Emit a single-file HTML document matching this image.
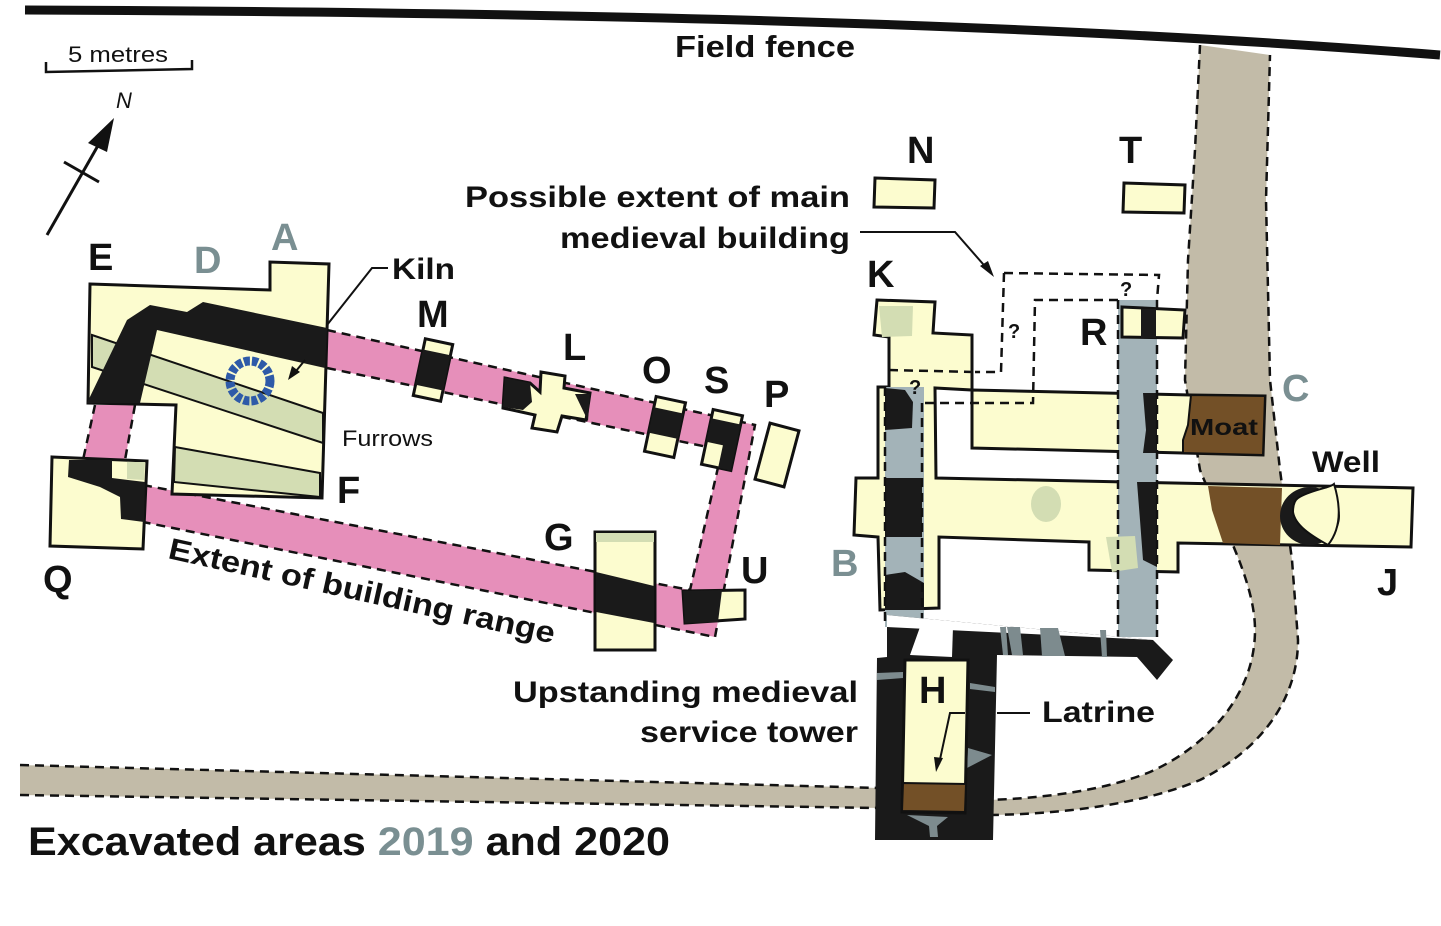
<!DOCTYPE html>
<html><head><meta charset="utf-8"><style>
html,body{margin:0;padding:0;background:#fff;}
svg{display:block;}
text{font-family:"Liberation Sans",Arial,sans-serif;font-weight:bold;fill:#111;}
</style></head><body>
<svg width="1441" height="926" viewBox="0 0 1441 926" xmlns="http://www.w3.org/2000/svg">
<!-- road -->
<path d="M1200,45 L1195,150 L1188,260 L1185,380 L1200,470 C1220,520 1255,580 1255,630 C1255,700 1200,750 1150,772 C1100,792 1040,798 990,800 L990,815 C1060,814 1140,805 1200,780 C1260,750 1298,700 1298,640 L1292,560 L1280,470 L1270,380 L1266,200 L1270,55 Z" fill="#c2bba8"/>
<path d="M1200,45 L1195,150 L1188,260 L1185,380 L1200,470 C1220,520 1255,580 1255,630 C1255,700 1200,750 1150,772 C1100,792 1040,798 990,800" fill="none" stroke="#111" stroke-width="2.5" stroke-dasharray="9,6"/>
<path d="M990,815 C1060,814 1140,805 1200,780 C1260,750 1298,700 1298,640 L1292,560 L1280,470 L1270,380 L1266,200 L1270,55" fill="none" stroke="#111" stroke-width="2.5" stroke-dasharray="9,6"/>
<path d="M20,765 L880,788 L880,808 L20,795 Z" fill="#c2bba8"/>
<path d="M20,765 L880,788 M20,795 L880,808" stroke="#111" stroke-width="2.5" stroke-dasharray="9,6" fill="none"/>
<!-- fence -->
<path d="M25,10 C500,12 1000,20 1440,55" stroke="#111" stroke-width="9" fill="none"/>
<!-- scale -->
<path d="M46,62 L46,72 L192,69 L192,60" stroke="#111" stroke-width="2.5" fill="none"/>
<text x="68" y="62" font-size="22" textLength="100" lengthAdjust="spacingAndGlyphs" style="font-weight:normal">5 metres</text>
<!-- north -->
<path d="M47,235 L108,128" stroke="#111" stroke-width="3"/>
<path d="M64,162 L99,182" stroke="#111" stroke-width="3"/>
<path d="M114,118 L88,143 L107,152 Z" fill="#111"/>
<text x="116" y="108" font-size="22" style="font-weight:normal;font-style:italic">N</text>
<!-- pink range -->
<g fill="#e68fba">
<path d="M327,330 L755,425 L715,637 L143,522 L143,485 L690,590 L722,450 L327,368 Z"/>
<path d="M95,405 L135,405 L125,460 L83,460 Z"/>
</g>
<g stroke="#111" stroke-width="2.5" stroke-dasharray="9,6" fill="none">
<path d="M327,330 L755,425 L715,637 L143,522"/>
<path d="M143,485 L690,590 L722,450 L327,368"/>
<path d="M95,405 L83,460 M135,405 L125,460"/>
</g>
<!-- E building -->
<path d="M90,284 L270,290 L270,262 L329,264 L322,498 L172,494 L176,405 L88,403 Z" fill="#fcfccf" stroke="#111" stroke-width="3"/>
<path d="M92,335 L323,413 L323,443 L92,367 Z" fill="#d3ddb3" stroke="#111" stroke-width="2"/>
<path d="M175,447 L320,473 L320,497 L174,482 Z" fill="#d3ddb3" stroke="#111" stroke-width="2"/>
<path d="M87,403 L127,320 L150,305 L187,312 L203,302 L327,328 L325,368 L157,330 L140,403 Z" fill="#1a1a1a"/>
<circle cx="250" cy="381" r="20" fill="none" stroke="#2e5aa8" stroke-width="9" stroke-dasharray="6,2"/>
<path d="M305,360 L292,376" stroke="#111" stroke-width="2"/>
<path d="M288,380 L292,366 L300,372 Z" fill="#111"/>
<path d="M388,268 L372,268 L327,325" stroke="#111" stroke-width="2" fill="none"/>
<!-- Q -->
<path d="M52,457 L147,461 L143,549 L50,546 Z" fill="#fcfccf" stroke="#111" stroke-width="3"/>
<path d="M127,462 L145,462 L144,480 L127,479 Z" fill="#d3ddb3"/>
<path d="M69,460 L112,460 L112,478 L145,482 L144,522 L121,519 L120,497 L100,487 L68,477 Z" fill="#1a1a1a"/>
<!-- M -->
<g transform="translate(433,370) rotate(12)"><rect x="-14" y="-29" width="28" height="58" fill="#fcfccf" stroke="#111" stroke-width="3"/><rect x="-14" y="-18" width="28" height="36" fill="#1a1a1a"/></g>
<!-- L -->
<path d="M505,378 L530,383 L540,392 L541,372 L565,376 L564,388 L590,393 L586,420 L562,416 L557,432 L532,428 L535,415 L503,408 Z" fill="#fcfccf" stroke="#111" stroke-width="3"/>
<path d="M505,378 L530,383 L532,402 L523,410 L503,407 Z" fill="#1a1a1a"/>
<path d="M575,394 L590,394 L588,421 Z" fill="#1a1a1a"/>
<!-- O -->
<g transform="translate(665,427) rotate(12)"><rect x="-15" y="-28" width="30" height="56" fill="#fcfccf" stroke="#111" stroke-width="3"/><rect x="-15" y="-17" width="30" height="26" fill="#1a1a1a"/></g>
<!-- S -->
<g transform="translate(722,440) rotate(12)"><rect x="-15" y="-28" width="30" height="56" fill="#fcfccf" stroke="#111" stroke-width="3"/><rect x="-15" y="-19" width="30" height="24" fill="#1a1a1a"/><rect x="2" y="4" width="13" height="24" fill="#1a1a1a"/></g>
<!-- P -->
<g transform="translate(777,455) rotate(15)"><rect x="-15" y="-29" width="30" height="58" fill="#fcfccf" stroke="#111" stroke-width="3"/></g>
<!-- G -->
<rect x="595" y="532" width="60" height="118" fill="#fcfccf" stroke="#111" stroke-width="3"/>
<rect x="596" y="533" width="58" height="9" fill="#d3ddb3"/>
<path d="M596,572 L654,586 L654,623 L596,612 Z" fill="#1a1a1a"/>
<!-- U -->
<path d="M683,591 L745,590 L745,619 L685,623 Z" fill="#fcfccf" stroke="#111" stroke-width="3"/>
<path d="M683,591 L722,590 L718,622 L685,623 Z" fill="#1a1a1a"/>
<!-- N, T -->
<path d="M875,178 L935,180 L934,208 L874,207 Z" fill="#fcfccf" stroke="#111" stroke-width="3"/>
<path d="M1124,183 L1185,185 L1184,213 L1123,212 Z" fill="#fcfccf" stroke="#111" stroke-width="3"/>
<!-- right complex -->
<path d="M877,300 L935,302 L933,333 L972,335 L972,390 L935,388 L936,478 L1413,488 L1411,547 L1178,543 L1178,572 L1089,570 L1089,542 L939,537 L939,608 L880,610 L878,537 L854,535 L856,478 L878,478 L878,387 L889,387 L889,337 L874,335 Z" fill="#fcfccf" stroke="#111" stroke-width="3"/>
<path d="M972,390 L1191,395 L1265,396 L1263,455 L1183,453 L972,448 Z" fill="#fcfccf" stroke="#111" stroke-width="3"/>
<path d="M1191,395 L1265,396 L1263,455 L1183,453 L1183,440 L1188,425 Z" fill="#735027" stroke="#111" stroke-width="2"/>
<path d="M1208,486 L1282,488 L1280,545 L1223,543 L1212,510 Z" fill="#735027"/>
<!-- well -->
<ellipse cx="1310" cy="516" rx="30" ry="29" fill="#1a1a1a"/>
<path d="M1298,498 C1310,490 1330,488 1334,484 C1342,510 1340,530 1328,545 C1310,535 1295,525 1293,512 C1293,505 1295,500 1298,498 Z" fill="#fcfccf" stroke="#111" stroke-width="2"/>
<!-- gray strips -->
<rect x="885" y="387" width="39" height="240" fill="#a3b3b8"/>
<rect x="1118" y="300" width="39" height="337" fill="#a3b3b8"/>
<g fill="#1a1a1a">
<path d="M885,388 L905,390 L913,402 L912,428 L885,430 Z"/>
<path d="M885,478 L922,478 L922,537 L885,537 Z"/>
<path d="M885,575 L905,572 L924,583 L924,610 L885,610 Z"/>
<path d="M1143,393 L1157,393 L1157,453 L1143,453 L1146,430 Z"/>
<path d="M1137,482 L1157,482 L1157,567 L1143,560 L1140,520 Z"/>
</g>
<!-- green blobs -->
<path d="M879,306 L913,306 L912,336 L882,337 Z" fill="#d3ddb3"/>
<ellipse cx="1046" cy="504" rx="15" ry="18" fill="#d3ddb3"/>
<path d="M1106,537 L1135,536 L1138,568 L1112,572 Z" fill="#d3ddb3"/>
<g stroke="#111" stroke-width="2.5" stroke-dasharray="9,6" fill="none">
<path d="M885,387 L885,627 M922,403 L922,627"/>
<path d="M1118,300 L1118,637 M1157,300 L1157,637"/>
<path d="M1004,273 L1159,275 L1157,300"/>
<path d="M1004,273 L1001,372 L975,372"/>
<path d="M889,370 L974,372"/>
<path d="M1118,300 L1035,300 L1033,403 L920,403"/>
</g>
<!-- R -->
<path d="M1122,307 L1185,310 L1183,338 L1122,337 Z" fill="#fcfccf" stroke="#111" stroke-width="3"/>
<rect x="1141" y="309" width="15" height="29" fill="#1a1a1a"/>
<text x="1008" y="338" font-size="20">?</text>
<text x="1120" y="296" font-size="20">?</text>
<text x="909" y="394" font-size="20">?</text>
<!-- possible extent arrow -->
<path d="M860,232 L955,232 L990,272" stroke="#111" stroke-width="2" fill="none"/>
<path d="M994,277 L980,266 L988,261 Z" fill="#111"/>
<!-- tower band -->
<path d="M887,615 L1153,640 L1173,660 L1157,680 L1137,657 L997,655 L993,840 L875,840 L877,658 L887,657 Z" fill="#1a1a1a"/>
<path d="M887,615 L887,627 L1153,640 Z" fill="#fff"/>
<path d="M920,627 L953,627 L952,657 L910,655 Z" fill="#fff"/>
<g fill="#7d8b8e">
<path d="M1000,627 L1006,627 L1008,655 L1003,655 Z"/>
<path d="M1007,627 L1020,627 L1023,655 L1012,655 Z"/>
<path d="M1040,628 L1058,628 L1065,656 L1042,656 Z"/>
<path d="M1100,630 L1106,630 L1107,657 L1102,657 Z"/>
<path d="M907,815 L948,817 L937,826 L938,837 L930,837 L929,826 Z"/>
<path d="M968,748 L992,755 L967,768 Z"/>
<path d="M877,673 L903,672 L903,678 L877,680 Z"/>
<path d="M970,683 L995,687 L995,692 L970,689 Z"/>
</g>
<path d="M905,660 L968,660 L965,813 L902,812 Z" fill="#fcfccf" stroke="#111" stroke-width="3"/>
<path d="M903,783 L966,784 L965,812 L902,811 Z" fill="#735027" stroke="#111" stroke-width="2"/>
<path d="M965,713 L950,713 L939,764" stroke="#111" stroke-width="2" fill="none"/>
<path d="M936,772 L934,757 L943,758 Z" fill="#111"/>
<path d="M997,713 L1030,713" stroke="#111" stroke-width="2"/>
<!-- labels -->
<text x="675" y="57" font-size="31" textLength="180" lengthAdjust="spacingAndGlyphs">Field fence</text>
<text x="88" y="270" font-size="38">E</text>
<text x="194" y="273" font-size="38" style="fill:#7a8f92">D</text>
<text x="271" y="250" font-size="38" style="fill:#7a8f92">A</text>
<text x="392" y="279" font-size="30" textLength="63" lengthAdjust="spacingAndGlyphs">Kiln</text>
<text x="417" y="327" font-size="38">M</text>
<text x="563" y="360" font-size="38">L</text>
<text x="642" y="383" font-size="38">O</text>
<text x="704" y="393" font-size="38">S</text>
<text x="764" y="407" font-size="38">P</text>
<text x="342" y="446" font-size="22" textLength="91" lengthAdjust="spacingAndGlyphs" style="font-weight:normal">Furrows</text>
<text x="337" y="503" font-size="38">F</text>
<text x="43" y="592" font-size="38">Q</text>
<text x="544" y="550" font-size="38">G</text>
<text x="741" y="583" font-size="38">U</text>
<text x="831" y="576" font-size="38" style="fill:#7a8f92">B</text>
<text x="907" y="163" font-size="38">N</text>
<text x="1119" y="163" font-size="38">T</text>
<text x="867" y="287" font-size="38">K</text>
<text x="1080" y="345" font-size="38">R</text>
<text x="1282" y="401" font-size="38" style="fill:#7a8f92">C</text>
<text x="1312" y="472" font-size="30" textLength="68" lengthAdjust="spacingAndGlyphs">Well</text>
<text x="1377" y="595" font-size="38">J</text>
<text x="919" y="703" font-size="38">H</text>
<text x="1190" y="435" font-size="23" textLength="68" lengthAdjust="spacingAndGlyphs">Moat</text>
<text x="1042" y="722" font-size="30" textLength="113" lengthAdjust="spacingAndGlyphs">Latrine</text>
<text x="465" y="207" font-size="30" textLength="385" lengthAdjust="spacingAndGlyphs">Possible extent of main</text>
<text x="560" y="248" font-size="30" textLength="290" lengthAdjust="spacingAndGlyphs">medieval building</text>
<text x="513" y="702" font-size="30" textLength="345" lengthAdjust="spacingAndGlyphs">Upstanding medieval</text>
<text x="640" y="742" font-size="30" textLength="218" lengthAdjust="spacingAndGlyphs">service tower</text>
<text x="0" y="0" font-size="30" textLength="395" lengthAdjust="spacingAndGlyphs" transform="translate(167,558) rotate(12.5)">Extent of building range</text>
<text x="28" y="855" font-size="40" textLength="642" lengthAdjust="spacingAndGlyphs">Excavated areas <tspan style="fill:#7a8f92">2019</tspan> and 2020</text>
</svg>
</body></html>
